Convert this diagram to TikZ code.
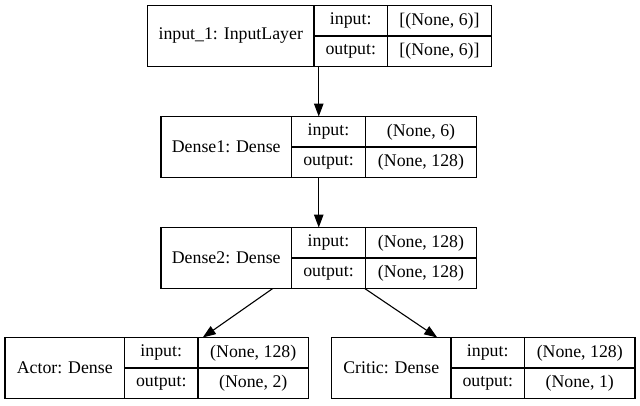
\documentclass[tikz,border=0pt]{standalone}
\usepackage{fontspec}
\setmainfont{Liberation Serif}
\usetikzlibrary{arrows.meta,calc}

% One layer record: name, column edges x0..x3, top edge, label, input shape, output shape
\newcommand\layerbox[9]{%
  \node[cell, minimum width={#5-#2}, minimum height=61, anchor=north west] (#1) at (#2,#6) {};
  \node[cell, minimum width={#3-#2}, minimum height=61, anchor=north west] (#1-name) at (#2,#6) {#7};
  \node[cell, minimum width={#4-#3}, minimum height=30.5, anchor=north west] (#1-inkey) at (#3,#6) {input:};
  \node[cell, minimum width={#5-#4}, minimum height=30.5, anchor=north west] (#1-inval) at (#4,#6) {#8};
  \node[cell, minimum width={#4-#3}, minimum height=30.5, anchor=north west] (#1-outkey) at (#3,#6+30.5) {output:};
  \node[cell, minimum width={#5-#4}, minimum height=30.5, anchor=north west] (#1-outval) at (#4,#6+30.5) {#9};
}

\begin{document}
\begin{tikzpicture}[x=1pt, y=-1pt,
  font=\fontsize{17.8}{20}\selectfont,
  cell/.style={draw, line width=1.1pt, inner sep=0pt, outer sep=0pt},
  link/.style={line width=1.1pt, -{Triangle[length=13pt, width=9.5pt]}}]
  \useasboundingbox (0,0) rectangle (640,405);
  \fill[white] (0,0) rectangle (640,405);

  \layerbox{inp}{147.5}{314}{387.5}{491.5}{5.5}{input\_1: InputLayer}{[(None, 6)]}{[(None, 6)]}
  \layerbox{dA}{161}{291.5}{365.5}{476.5}{116.5}{Dense1: Dense}{(None, 6)}{(None, 128)}
  \layerbox{dB}{161}{291.5}{365.5}{476.5}{227.5}{Dense2: Dense}{(None, 128)}{(None, 128)}
  \layerbox{actor}{5}{124.5}{198}{308.5}{337.5}{Actor: Dense}{(None, 128)}{(None, 2)}
  \layerbox{critic}{331.5}{451}{524.5}{635}{337.5}{Critic: Dense}{(None, 128)}{(None, 1)}

  % connectors between the layer records
  \draw[link] (dA.north |- inp.south) -- (dA.north);
  \draw[link] (dA.south) -- (dB.north);
  \draw[link] ($(dB.south)+(-46,0)$) -- ($(actor.north)+(46,0)$);
  \draw[link] ($(dB.south)+(46,0)$) -- ($(critic.north)+(-46,0)$);
\end{tikzpicture}
\end{document}
